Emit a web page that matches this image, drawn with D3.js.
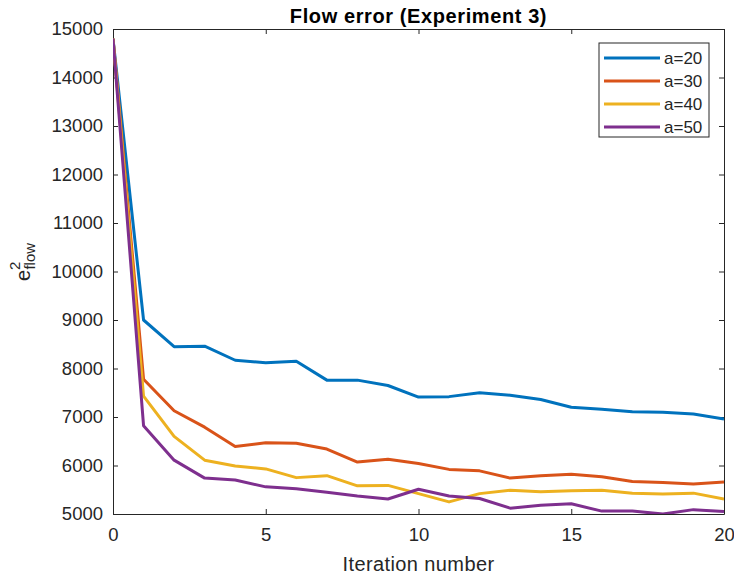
<!DOCTYPE html>
<html>
<head>
<meta charset="utf-8">
<script src="https://cdn.jsdelivr.net/npm/d3@7"></script>
<style>
  body { margin: 0; background: #fff; }
  text { font-family: "Liberation Sans", Arial, sans-serif; }
</style>
</head>
<body>
<div id="chart"></div>
<script>
//data
const iterations = d3.range(0, 21);
const seriesNames = ["a=20", "a=30", "a=40", "a=50"];
const a20 = [14800, 9000, 8450, 8460, 8170, 8120, 8150, 7760, 7760, 7650, 7410, 7420, 7500, 7450, 7360, 7200, 7160, 7110, 7100, 7060, 6960];
const a30 = [14800, 7780, 7130, 6790, 6390, 6470, 6460, 6340, 6070, 6130, 6040, 5920, 5890, 5740, 5790, 5820, 5770, 5670, 5650, 5620, 5660];
const a40 = [14800, 7430, 6600, 6110, 5990, 5930, 5750, 5790, 5580, 5590, 5420, 5250, 5420, 5490, 5460, 5480, 5490, 5430, 5410, 5430, 5310];
const a50 = [14800, 6820, 6110, 5740, 5700, 5560, 5520, 5450, 5370, 5310, 5510, 5370, 5320, 5120, 5180, 5210, 5060, 5060, 5000, 5090, 5050];
const xTicks = [0, 5, 10, 15, 20];
const yTicks = [5000, 6000, 7000, 8000, 9000, 10000, 11000, 12000, 13000, 14000, 15000];
const colors = ["#0072BD", "#D95319", "#EDB120", "#7E2F8E"];

const series = [a20, a30, a40, a50];

const w = 734;
const h = 577;
const margin = { left: 113, right: 10, top: 29, bottom: 63 };
const axisColor = "#262626";

const svg = d3.select("#chart")
      .append("svg")
      .attr("width", w)
      .attr("height", h);

const x = d3.scaleLinear().domain([0, 20]).range([margin.left, w - margin.right]);
const y = d3.scaleLinear().domain([5000, 15000]).range([h - margin.bottom, margin.top]);

//clip so lines stay in the box
svg.append("clipPath").attr("id", "plotClip")
      .append("rect")
      .attr("x", margin.left)
      .attr("y", margin.top)
      .attr("width", w - margin.left - margin.right)
      .attr("height", h - margin.top - margin.bottom);

//axes (MATLAB style: ticks inside, box on)
const styleAxis = (g) => {
      g.selectAll("path").attr("stroke", axisColor).attr("stroke-width", 1);
      g.selectAll("line").attr("stroke", axisColor);
      g.selectAll("text").attr("fill", axisColor).style("font-size", "18.5px");
};

svg.append("g")
      .attr("transform", `translate(0,${y(5000)})`)
      .call(d3.axisBottom(x).tickValues(xTicks).tickSize(-5).tickSizeOuter(0).tickPadding(14))
      .call(styleAxis);

svg.append("g")
      .attr("transform", `translate(0,${y(15000)})`)
      .call(d3.axisTop(x).tickValues(xTicks).tickSize(-5).tickSizeOuter(0).tickFormat(""))
      .call(styleAxis);

svg.append("g")
      .attr("transform", `translate(${x(0)},0)`)
      .call(d3.axisLeft(y).tickValues(yTicks).tickSize(-5).tickSizeOuter(0).tickPadding(10).tickFormat(d3.format("d")))
      .call(styleAxis);

svg.append("g")
      .attr("transform", `translate(${x(20)},0)`)
      .call(d3.axisRight(y).tickValues(yTicks).tickSize(-5).tickSizeOuter(0).tickFormat(""))
      .call(styleAxis);

//lines
const line = d3.line()
      .x((d, i) => x(iterations[i]))
      .y((d) => y(d));

svg.append("g")
      .attr("clip-path", "url(#plotClip)")
      .selectAll("path")
      .data(series)
      .enter()
      .append("path")
      .attr("d", line)
      .attr("fill", "none")
      .attr("stroke", (d, i) => colors[i])
      .attr("stroke-width", 3)
      .attr("stroke-linejoin", "round");

//title
svg.append("text")
      .attr("x", (x(0) + x(20)) / 2)
      .attr("y", 23)
      .attr("text-anchor", "middle")
      .style("font-size", "20px")
      .style("font-weight", "bold")
      .style("letter-spacing", "0.6px")
      .attr("fill", "#000")
      .text("Flow error (Experiment 3)");

//x label
svg.append("text")
      .attr("x", (x(0) + x(20)) / 2)
      .attr("y", 571)
      .attr("text-anchor", "middle")
      .style("font-size", "20px")
      .style("letter-spacing", "0.4px")
      .attr("fill", axisColor)
      .text("Iteration number");

//y label e^2_flow
const yl = svg.append("text")
      .attr("transform", `translate(30,262) rotate(-90)`)
      .attr("text-anchor", "middle")
      .style("font-size", "20px")
      .attr("fill", axisColor);
yl.append("tspan").text("e");
yl.append("tspan").attr("dy", -10).style("font-size", "15px").text("2");
yl.append("tspan").attr("dx", -8).attr("dy", 15).style("font-size", "15px").text("flow");

//legend
const legend = svg.append("g").attr("transform", "translate(599,43)");
legend.append("rect")
      .attr("width", 110)
      .attr("height", 94)
      .attr("fill", "#fff")
      .attr("stroke", axisColor)
      .attr("stroke-width", 1);

const entries = legend.selectAll("g.entry")
      .data(seriesNames)
      .enter()
      .append("g")
      .attr("class", "entry")
      .attr("transform", (d, i) => `translate(0,${15 + i * 23})`);

entries.append("line")
      .attr("x1", 5).attr("x2", 61)
      .attr("stroke", (d, i) => colors[i])
      .attr("stroke-width", 3);

entries.append("text")
      .attr("x", 65)
      .attr("y", 6)
      .style("font-size", "17px")
      .attr("fill", axisColor)
      .text((d) => d);
</script>
</body>
</html>
